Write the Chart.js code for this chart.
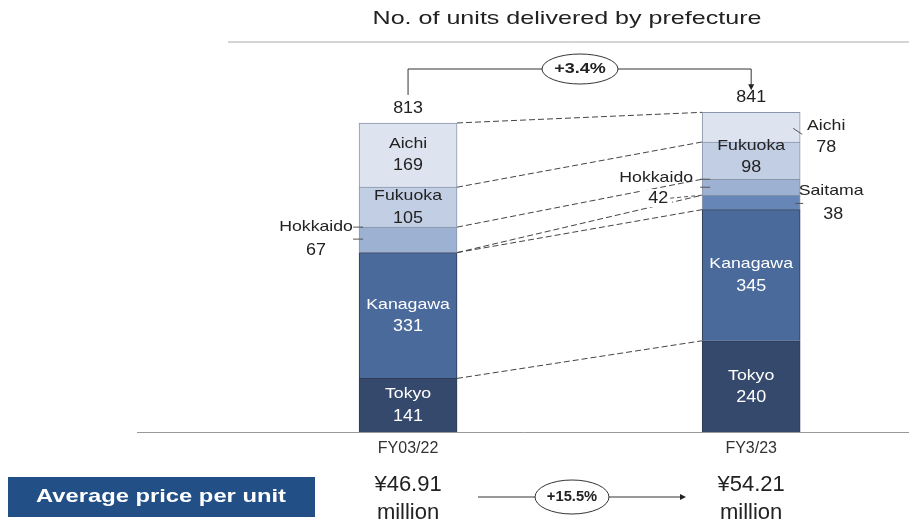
<!DOCTYPE html>
<html>
<head>
<meta charset="utf-8">
<script src="https://cdn.jsdelivr.net/npm/chart.js@4.4.0/dist/chart.umd.min.js"></script>
<style>
html, body { margin: 0; padding: 0; background: #fff; overflow: hidden; }
#wrap { width: 909px; height: 526px; position: relative; }
</style>
</head>
<body>
<div id="wrap"><canvas id="units"></canvas></div>
<script>
// values
const years = ['FY03/22', 'FY3/23'];
const prefectures = ['Tokyo', 'Kanagawa', 'Saitama', 'Hokkaido', 'Fukuoka', 'Aichi'];
const tokyo = [141, 240];
const kanagawa = [331, 345];
const saitama = [0, 38];
const hokkaido = [67, 42];
const fukuoka = [105, 98];
const aichi = [169, 78];
const totals = [813, 841];
const unitGrowth = '+3.4%';
const avgPrice = ['¥46.91', '¥54.21'];
const priceGrowth = '+15.5%';

const colors = ['#34496b', '#4a6a9b', '#6686b8', '#9db1d3', '#c2cee3', '#dde4ef'];
const series = [tokyo, kanagawa, saitama, hokkaido, fukuoka, aichi];
const FONT = "'Liberation Sans', Arial, sans-serif";
const WIDE = 1.18; // the source text is drawn a little wider than Arial

const ds = prefectures.map((p, k) => ({
    label: p,
    data: series[k].map((v, i) => ({ x: i, y: v })),
    backgroundColor: colors[k],
    borderColor: k < 2 ? '#2e3d55' : '#8a96a8',
    borderWidth: 1,
    barThickness: 98
}));

function txt(ctx, s, x, y, size, color, bold, sx) {
    ctx.save();
    ctx.font = (bold ? 'bold ' : '') + size + 'px ' + FONT;
    ctx.fillStyle = color;
    ctx.textAlign = 'center';
    ctx.textBaseline = 'middle';
    ctx.translate(x, y);
    ctx.scale(sx || 1, 1);
    ctx.fillText(s, 0, 0);
    ctx.restore();
}
function line(ctx, pts, color, dash) {
    ctx.save();
    ctx.strokeStyle = color;
    ctx.lineWidth = 1;
    ctx.setLineDash(dash || []);
    ctx.beginPath();
    pts.forEach((p, i) => i ? ctx.lineTo(p[0], p[1]) : ctx.moveTo(p[0], p[1]));
    ctx.stroke();
    ctx.restore();
}
function oval(ctx, cx, cy, rx, ry) {
    ctx.save();
    ctx.fillStyle = '#fff';
    ctx.strokeStyle = '#333';
    ctx.lineWidth = 1;
    ctx.beginPath();
    ctx.ellipse(cx, cy, rx, ry, 0, 0, Math.PI * 2);
    ctx.fill();
    ctx.stroke();
    ctx.restore();
}
function arrowHead(ctx, x, y, dir) {
    ctx.save();
    ctx.fillStyle = '#222';
    ctx.beginPath();
    if (dir === 'down') { ctx.moveTo(x, y); ctx.lineTo(x - 3, y - 6); ctx.lineTo(x + 3, y - 6); }
    else { ctx.moveTo(x, y); ctx.lineTo(x - 6, y - 3); ctx.lineTo(x - 6, y + 3); }
    ctx.closePath();
    ctx.fill();
    ctx.restore();
}

const extras = {
    id: 'extras',
    afterDatasetsDraw(chart) {
        const { ctx } = chart;
        const xs = chart.scales.x;
        const metas = chart.getSortedVisibleDatasetMetas();
        const el = (k, i) => metas[k].data[i];
        const half = 49;

        // title and rule
        txt(ctx, 'No. of units delivered by prefecture', 567, 19, 19, '#222', false, 1.32);
        line(ctx, [[228, 42], [909, 42]], '#aaa');

        // dashed connectors between segment tops
        for (let k = 0; k < prefectures.length; k++) {
            const a = el(k, 0), b = el(k, 1);
            line(ctx, [[a.x + half, a.y], [b.x - half, b.y]], '#444', [6, 3]);
        }

        // totals
        const top0 = el(5, 0), top1 = el(5, 1);
        totals.forEach((t, i) => {
            const e = el(5, i);
            txt(ctx, String(t), e.x, e.y - 15, 17, '#222', false, 1.05);
        });

        // growth bracket
        const by = 69;
        line(ctx, [[top0.x, top0.y - 28], [top0.x, by], [top1.x, by], [top1.x, top1.y - 27]], '#333');
        arrowHead(ctx, top1.x, top1.y - 22, 'down');
        oval(ctx, 580, by, 38, 15);
        txt(ctx, unitGrowth, 580, by, 15, '#222', true, 1.2);

        // labels inside bars
        const inside = { Tokyo: [1, 1], Kanagawa: [1, 1], Fukuoka: [1, 1], Aichi: [1, 0] };
        prefectures.forEach((p, k) => {
            if (!inside[p]) return;
            years.forEach((_, i) => {
                if (!inside[p][i]) return;
                const e = el(k, i);
                const cy = (e.y + e.base) / 2 - (p === 'Fukuoka' && i === 1 ? 4 : 0);
                const c = k < 2 ? '#fff' : '#222';
                txt(ctx, p, e.x, cy - 11, 15, c, false, WIDE);
                txt(ctx, String(series[k][i]), e.x, cy + 11, 16, c, false, 1.12);
            });
        });

        // Hokkaido FY03/22 (left)
        let e = el(3, 0);
        txt(ctx, 'Hokkaido', e.x - half - 43, e.y, 15, '#222', false, WIDE);
        txt(ctx, String(hokkaido[0]), e.x - half - 43, e.y + 23, 16, '#222', false, 1.12);
        line(ctx, [[e.x - half - 6, e.y], [e.x - half + 4, e.y]], '#555');
        line(ctx, [[e.x - half - 6, e.y + 12], [e.x - half + 4, e.y + 12]], '#555');

        // Hokkaido FY3/23 (left)
        e = el(3, 1);
        const l1 = e.x - half;
        ctx.save();
        ctx.fillStyle = '#fff';
        ctx.fillRect(l1 - 60, e.base - 6, 30, 18);
        ctx.restore();
        txt(ctx, 'Hokkaido', l1 - 46, e.y - 1, 15, '#222', false, WIDE);
        txt(ctx, String(hokkaido[1]), l1 - 44, e.base + 3, 16, '#222', false, 1.12);
        line(ctx, [[l1 - 32, e.base + 3], [l1, e.base]], '#555', [4, 3]);
        line(ctx, [[l1 - 2, e.y], [l1 + 8, e.y]], '#555');
        line(ctx, [[l1 - 2, e.y + 8], [l1 + 8, e.y + 8]], '#555');

        // Aichi FY3/23 (right)
        e = el(5, 1);
        const r1 = e.x + half;
        txt(ctx, 'Aichi', r1 + 26, e.y + 14, 15, '#222', false, WIDE);
        txt(ctx, String(aichi[1]), r1 + 26, e.y + 35, 16, '#222', false, 1.12);
        line(ctx, [[r1 - 7, e.y + 16], [r1 + 2, e.y + 22]], '#555');

        // Saitama FY3/23 (right)
        e = el(2, 1);
        const sc = (e.y + e.base) / 2;
        txt(ctx, 'Saitama', r1 + 31, sc - 12, 15, '#222', false, WIDE);
        txt(ctx, String(saitama[1]), r1 + 33, sc + 12, 16, '#222', false, 1.12);
        line(ctx, [[r1 - 5, sc + 1], [r1 + 3, sc + 1]], '#555');

        // average price row
        ctx.save();
        ctx.fillStyle = '#234f87';
        ctx.fillRect(8, 477, 307, 40);
        ctx.restore();
        txt(ctx, 'Average price per unit', 161, 497, 19, '#fff', true, 1.25);
        avgPrice.forEach((p, i) => {
            const px = xs.getPixelForValue(i);
            txt(ctx, p, px, 485, 22, '#222');
            txt(ctx, 'million', px, 513, 22, '#222');
        });
        line(ctx, [[478, 497], [680, 497]], '#333');
        arrowHead(ctx, 686, 497, 'right');
        oval(ctx, 572, 497, 37, 17);
        txt(ctx, priceGrowth, 572, 497, 14, '#222', true, 1.05);
    }
};

new Chart(document.getElementById('units'), {
    type: 'bar',
    data: { datasets: ds },
    options: {
        responsive: true,
        maintainAspectRatio: false,
        animation: false,
        layout: { padding: { top: 42, left: 137, right: 0, bottom: 0 } },
        plugins: { legend: { display: false }, tooltip: { enabled: false } },
        scales: {
            x: {
                type: 'linear',
                stacked: true,
                offset: false,
                min: -0.79,
                max: 1.46,
                grid: { display: false, drawTicks: false },
                border: { display: true, color: '#999', width: 1 },
                afterBuildTicks: s => { s.ticks = years.map((_, i) => ({ value: i })); },
                afterFit: s => { s.height = 94; },
                ticks: {
                    padding: 7,
                    color: '#333',
                    font: { family: FONT, size: 16 },
                    callback: v => years[v] ?? ''
                }
            },
            y: {
                stacked: true,
                display: false,
                min: 0,
                max: 1026
            }
        }
    },
    plugins: [extras]
});
</script>
</body>
</html>
